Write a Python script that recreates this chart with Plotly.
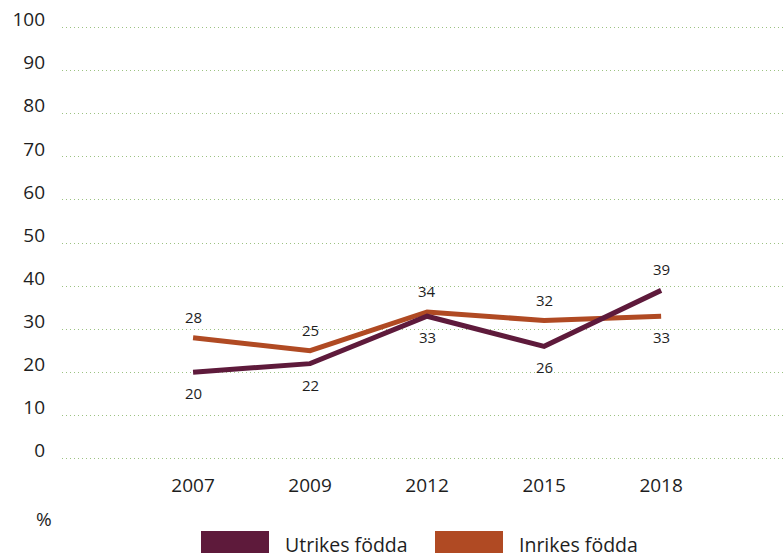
import plotly.graph_objects as go

# Survey years and shares (%) per group
years = ["2007", "2009", "2012", "2015", "2018"]
utrikes = [20, 22, 33, 26, 39]
inrikes = [28, 25, 34, 32, 33]
y_ticks = [0, 10, 20, 30, 40, 50, 60, 70, 80, 90, 100]

# +1 = value label above the line, -1 = below
utrikes_side = [-1, -1, -1, -1, 1]
inrikes_side = [1, 1, 1, 1, -1]

C_UT = "#5e1a3b"
C_IN = "#b04a23"
TXT = "#1e1e1e"
FONT = "Open Sans"

W, H = 784, 557
M_L, M_R, M_T, M_B = 62, 0, 19, 90

xi = list(range(len(years)))

fig = go.Figure()
for name, vals, sides, color in [("Inrikes födda", inrikes, inrikes_side, C_IN),
                                 ("Utrikes födda", utrikes, utrikes_side, C_UT)]:
    fig.add_trace(go.Scatter(
        x=xi, y=vals, mode="lines", name=name,
        line=dict(color=color, width=5),
        hoverinfo="skip", showlegend=False,
    ))
    for x, v, s in zip(xi, vals, sides):
        fig.add_annotation(x=x, y=v, text=str(v), showarrow=False,
                           xanchor="center", yanchor="middle", yshift=21 * s,
                           font=dict(family=FONT, size=15, color=TXT))

fig.update_xaxes(
    range=[-1.12, 5.05], tickmode="array", tickvals=xi, ticktext=years,
    showgrid=False, zeroline=False, showline=False, ticks="",
    tickfont=dict(family=FONT, size=19, color=TXT),
    ticklabelstandoff=5,
)
fig.update_yaxes(
    range=[-2, 102], tickmode="array", tickvals=y_ticks,
    showgrid=True, gridcolor="#9cc282", griddash="1px,3px", gridwidth=1,
    zeroline=False, showline=False, ticks="",
    tickfont=dict(family=FONT, size=19, color=TXT),
    ticklabelstandoff=16, ticklabelshift=-8,
)

# helpers converting pixel targets into paper coordinates
pw = W - M_L - M_R
ph = H - M_T - M_B


def px(x):
    return (x - M_L) / pw


def py(y):
    return (H - M_B - y) / ph


# unit label under the y axis
fig.add_annotation(x=px(44), y=py(519), xref="paper", yref="paper", text="%",
                   showarrow=False, xanchor="center", yanchor="middle",
                   font=dict(family=FONT, size=19, color=TXT))

# legend: colour boxes with labels
legend_items = [("Utrikes födda", C_UT, 201), ("Inrikes födda", C_IN, 435)]
for label, color, x0 in legend_items:
    fig.add_shape(type="rect", xref="paper", yref="paper",
                  x0=px(x0), x1=px(x0 + 68), y0=py(553), y1=py(531),
                  fillcolor=color, line=dict(width=0))
    fig.add_annotation(x=px(x0 + 82), y=py(544), xref="paper", yref="paper",
                       text=label, showarrow=False, xanchor="left", yanchor="middle",
                       font=dict(family=FONT, size=19.5, color=TXT))

fig.update_layout(
    width=W, height=H,
    margin=dict(l=M_L, r=M_R, t=M_T, b=M_B),
    paper_bgcolor="white", plot_bgcolor="white",
    showlegend=False,
)

fig.write_html("out.html")
